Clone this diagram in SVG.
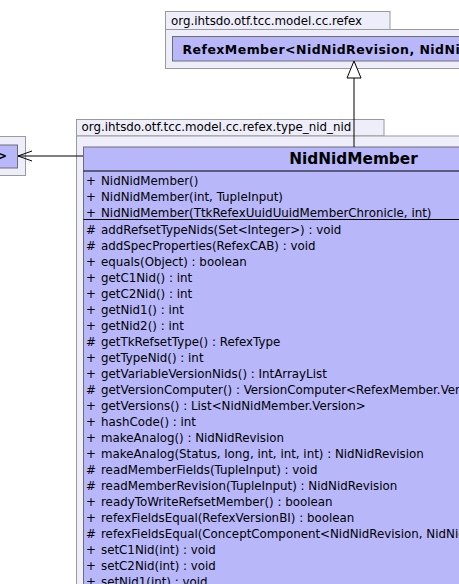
<svg xmlns="http://www.w3.org/2000/svg" width="459" height="584" viewBox="0 0 459 584">
<style>
.pkg{fill:#eeeefa;stroke:#9a9a9a;stroke-width:1}
.cls{fill:#b7b7fa;stroke:#6e6e6e;stroke-width:1}
.sep{stroke:#000;stroke-width:1}
.lbl{font-family:"DejaVu Sans",sans-serif;font-size:11.85px;fill:#000}
.mem{font-family:"DejaVu Sans",sans-serif;font-size:11.85px;fill:#000}
.bold{font-family:"DejaVu Sans",sans-serif;font-weight:bold;fill:#000}
.edge{stroke:#000;stroke-width:1;fill:none}
</style>
<rect width="459" height="584" fill="#fff"/>
<g id="pkg-refex">
<rect class="pkg" x="165.5" y="11.5" width="224.5" height="18"/>
<rect class="pkg" x="165.5" y="29.5" width="300" height="39"/>
<text class="lbl" x="171" y="25">org.ihtsdo.otf.tcc.model.cc.refex</text>
</g>
<g id="RefexMember">
<rect class="cls" x="172.5" y="36.5" width="300" height="24.5"/>
<text class="bold" x="182.5" y="53.5" font-size="12.5" letter-spacing="0.45">RefexMember&lt;NidNidRevision, NidNidMember.Version&gt;</text>
</g>
<g id="pkg-left">
<rect class="pkg" x="-10" y="136.5" width="35.5" height="39"/>
</g>
<g id="left-class">
<rect class="cls" x="-10" y="145" width="27.5" height="23"/>
<text class="bold" x="-3" y="160" font-size="12">&gt;</text>
</g>
<g id="pkg-type_nid_nid">
<rect class="pkg" x="76.5" y="119.5" width="307.5" height="16.5"/>
<rect class="pkg" x="76.5" y="136" width="400" height="460"/>
<text class="lbl" x="81.5" y="130.5">org.ihtsdo.otf.tcc.model.cc.refex.type_nid_nid</text>
</g>
<g id="NidNidMember">
<rect class="cls" x="83.5" y="147" width="541" height="450"/>
<line class="sep" x1="83.5" y1="171" x2="459" y2="171"/>
<text class="bold" x="353.5" y="163.5" font-size="15.3" text-anchor="middle">NidNidMember</text>
<g class="mem">
<text y="185"><tspan x="86">+</tspan><tspan x="101">NidNidMember()</tspan></text>
<text y="201"><tspan x="86">+</tspan><tspan x="101">NidNidMember(int, TupleInput)</tspan></text>
<text y="217"><tspan x="86">+</tspan><tspan x="101">NidNidMember(TtkRefexUuidUuidMemberChronicle, int)</tspan></text>
</g>
<line class="sep" x1="83.5" y1="219.5" x2="459" y2="219.5"/>
<g class="mem">
<text y="233.5"><tspan x="86">#</tspan><tspan x="101">addRefsetTypeNids(Set&lt;Integer&gt;) : void</tspan></text>
<text y="249.5"><tspan x="86">#</tspan><tspan x="101">addSpecProperties(RefexCAB) : void</tspan></text>
<text y="265.5"><tspan x="86">+</tspan><tspan x="101">equals(Object) : boolean</tspan></text>
<text y="281.5"><tspan x="86">+</tspan><tspan x="101">getC1Nid() : int</tspan></text>
<text y="297.5"><tspan x="86">+</tspan><tspan x="101">getC2Nid() : int</tspan></text>
<text y="313.5"><tspan x="86">+</tspan><tspan x="101">getNid1() : int</tspan></text>
<text y="329.5"><tspan x="86">+</tspan><tspan x="101">getNid2() : int</tspan></text>
<text y="345.5"><tspan x="86">#</tspan><tspan x="101">getTkRefsetType() : RefexType</tspan></text>
<text y="361.5"><tspan x="86">+</tspan><tspan x="101">getTypeNid() : int</tspan></text>
<text y="377.5"><tspan x="86">+</tspan><tspan x="101">getVariableVersionNids() : IntArrayList</tspan></text>
<text y="393.5"><tspan x="86">#</tspan><tspan x="101">getVersionComputer() : VersionComputer&lt;RefexMember.Version&lt;NidNidRevision, NidNidMember&gt;&gt;</tspan></text>
<text y="409.5"><tspan x="86">+</tspan><tspan x="101">getVersions() : List&lt;NidNidMember.Version&gt;</tspan></text>
<text y="425.5"><tspan x="86">+</tspan><tspan x="101">hashCode() : int</tspan></text>
<text y="441.5"><tspan x="86">+</tspan><tspan x="101">makeAnalog() : NidNidRevision</tspan></text>
<text y="457.5"><tspan x="86">+</tspan><tspan x="101">makeAnalog(Status, long, int, int, int) : NidNidRevision</tspan></text>
<text y="473.5"><tspan x="86">#</tspan><tspan x="101">readMemberFields(TupleInput) : void</tspan></text>
<text y="489.5"><tspan x="86">#</tspan><tspan x="101">readMemberRevision(TupleInput) : NidNidRevision</tspan></text>
<text y="505.5"><tspan x="86">+</tspan><tspan x="101">readyToWriteRefsetMember() : boolean</tspan></text>
<text y="521.5"><tspan x="86">+</tspan><tspan x="101">refexFieldsEqual(RefexVersionBI) : boolean</tspan></text>
<text y="537.5"><tspan x="86">#</tspan><tspan x="101">refexFieldsEqual(ConceptComponent&lt;NidNidRevision, NidNidMember&gt;.Version) : boolean</tspan></text>
<text y="553.5"><tspan x="86">+</tspan><tspan x="101">setC1Nid(int) : void</tspan></text>
<text y="569.5"><tspan x="86">+</tspan><tspan x="101">setC2Nid(int) : void</tspan></text>
<text y="585.5"><tspan x="86">+</tspan><tspan x="101">setNid1(int) : void</tspan></text>
</g>
</g>
<g id="connectors">
<line class="edge" x1="354" y1="147" x2="354" y2="78"/>
<polygon points="354,61 347,78 361,78" fill="#fff" stroke="#000" stroke-width="1"/>
<line class="edge" x1="83" y1="156" x2="18" y2="156"/>
<polyline class="edge" points="32,151 18,156 32,161"/>
</g>
</svg>
